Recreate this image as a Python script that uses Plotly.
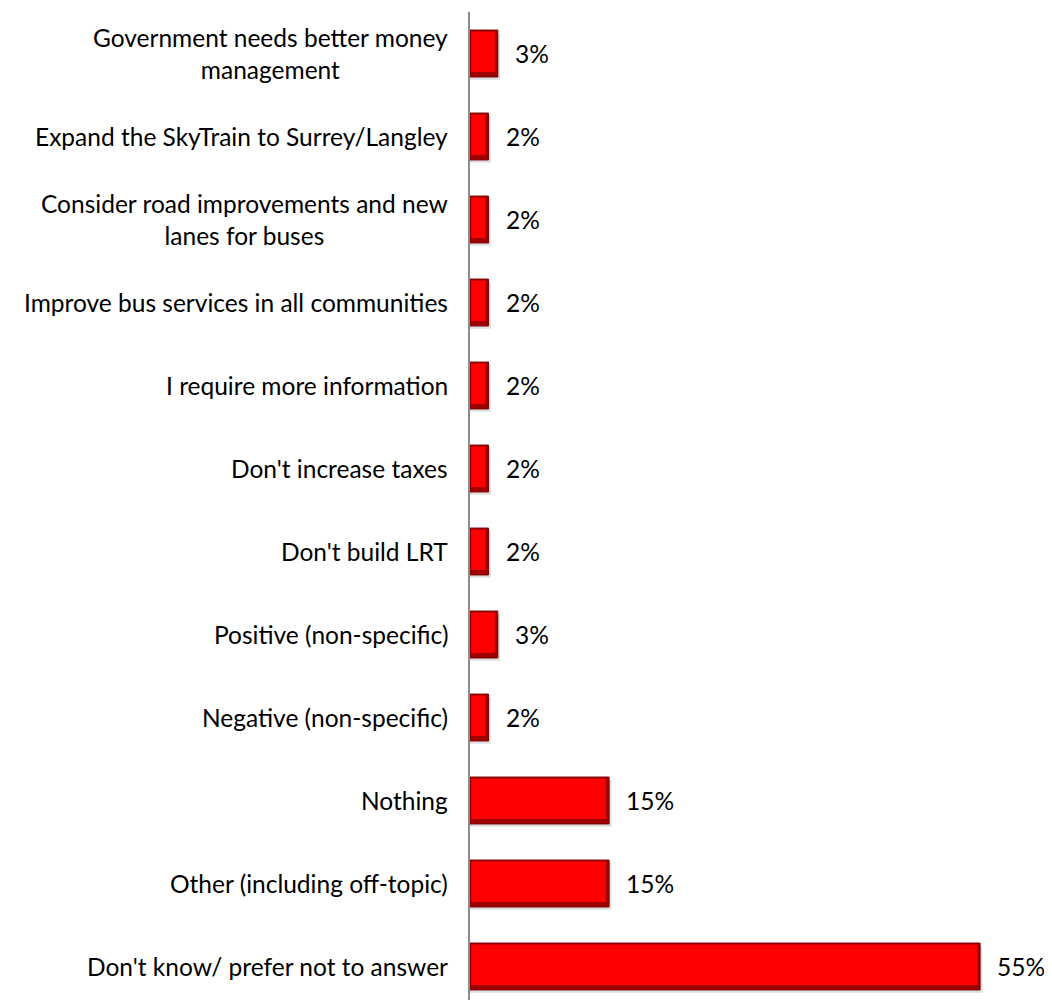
import plotly.graph_objects as go

categories = [
    "Government needs better money<br>management",
    "Expand the SkyTrain to Surrey/Langley",
    "Consider road improvements and new<br>lanes for buses",
    "Improve bus services in all communities",
    "I require more information",
    "Don't increase taxes",
    "Don't build LRT",
    "Positive (non-specific)",
    "Negative (non-specific)",
    "Nothing",
    "Other (including off-topic)",
    "Don't know/ prefer not to answer",
]
values = [3, 2, 2, 2, 2, 2, 2, 3, 2, 15, 15, 55]
value_labels = ["3%", "2%", "2%", "2%", "2%", "2%", "2%", "3%", "2%", "15%", "15%", "55%"]

# bottom-to-top ordering for plotting
cats_plot = categories[::-1]
vals_plot = values[::-1]
labs_plot = value_labels[::-1]

FONT = "Lato, 'Open Sans', sans-serif"
FS = 24.5

BAR_W = 0.565          # bar thickness in category units
HALF = BAR_W / 2
BEVEL_X = 0.45         # bevel depth in value units
BEVEL_Y = 0.06         # bevel depth in category units

fig = go.Figure()
# soft shadow
fig.add_trace(go.Bar(
    y=cats_plot, x=[v + 0.25 for v in vals_plot], orientation="h",
    width=BAR_W, offset=-HALF - 0.035,
    marker=dict(color="rgba(0,0,0,0.13)", line=dict(width=0)),
    hoverinfo="skip",
))
# dark bevel body
fig.add_trace(go.Bar(
    y=cats_plot, x=vals_plot, orientation="h",
    width=BAR_W, offset=-HALF,
    marker=dict(color="#9E0000", line=dict(color="#7A0000", width=1)),
    hoverinfo="skip",
))
# bright face
fig.add_trace(go.Bar(
    y=cats_plot, x=[v - BEVEL_X for v in vals_plot], base=0.12, orientation="h",
    width=BAR_W - BEVEL_Y - 0.018, offset=-HALF + BEVEL_Y,
    marker=dict(color="#FF0000", line=dict(width=0)),
    hoverinfo="skip",
))

annotations = []
for c, v, l in zip(cats_plot, vals_plot, labs_plot):
    annotations.append(dict(
        x=0, xref="paper", y=c, yref="y", text=c, showarrow=False,
        xanchor="right", yanchor="middle", align="center", xshift=-20,
        font=dict(family=FONT, size=FS, color="#000000"),
    ))
    annotations.append(dict(
        x=v, xref="x", y=c, yref="y", text=l, showarrow=False,
        xanchor="left", yanchor="middle", xshift=15,
        font=dict(family=FONT, size=FS, color="#000000"),
    ))

fig.update_layout(
    width=1052, height=1000,
    margin=dict(l=462, r=15, t=4, b=0),
    paper_bgcolor="white", plot_bgcolor="white",
    barmode="overlay",
    showlegend=False,
    annotations=annotations,
    xaxis=dict(range=[0, 62], showgrid=False, zeroline=False,
               showticklabels=False, showline=False, ticks=""),
    yaxis=dict(type="category", categoryorder="array", categoryarray=cats_plot,
               range=[-0.5, 11.5], showgrid=False, zeroline=False,
               showticklabels=False, showline=True, linecolor="#8C8C8C",
               linewidth=2, ticks=""),
)

fig.write_html("out.html")
